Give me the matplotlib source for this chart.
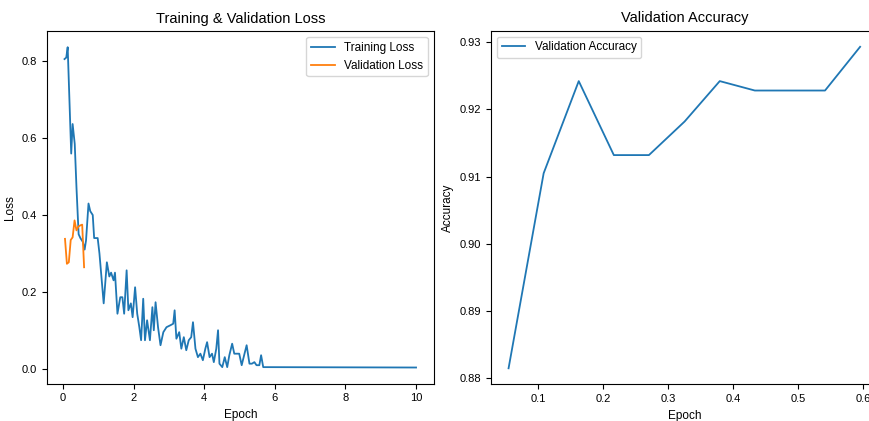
import matplotlib
matplotlib.use("Agg")
import matplotlib.pyplot as plt

plt.rcParams['font.family'] = ['Liberation Sans', 'DejaVu Sans']

# training loss (logged per step, x in epochs)
train_epoch = [0.04, 0.09, 0.13, 0.23, 0.27, 0.33, 0.38, 0.44, 0.49, 0.56, 0.61, 0.65,
               0.72, 0.77, 0.84, 0.88, 0.98, 1.03, 1.15, 1.24, 1.31, 1.36, 1.43, 1.47,
               1.54, 1.62, 1.68, 1.73, 1.80, 1.85, 1.92, 1.97, 2.04, 2.10, 2.16, 2.21,
               2.27, 2.32, 2.38, 2.46, 2.53, 2.57, 2.62, 2.69, 2.76, 2.84, 2.93, 3.04,
               3.12, 3.16, 3.21, 3.29, 3.35, 3.42, 3.49, 3.56, 3.63, 3.68, 3.75, 3.82,
               3.89, 3.96, 4.03, 4.08, 4.15, 4.22, 4.27, 4.34, 4.39, 4.43, 4.51, 4.58,
               4.65, 4.71, 4.79, 4.85, 4.92, 4.99, 5.06, 5.14, 5.20, 5.28, 5.35, 5.42,
               5.48, 5.56, 5.61, 5.67, 10.0]
train_loss = [0.806, 0.81, 0.837, 0.56, 0.637, 0.585, 0.47, 0.35, 0.34, 0.33, 0.31, 0.334,
              0.43, 0.41, 0.40, 0.34, 0.34, 0.30, 0.17, 0.277, 0.24, 0.25, 0.23, 0.25,
              0.143, 0.186, 0.186, 0.143, 0.256, 0.152, 0.17, 0.134, 0.212, 0.143, 0.108, 0.074,
              0.182, 0.074, 0.126, 0.074, 0.16, 0.10, 0.173, 0.108, 0.061, 0.095, 0.108, 0.113,
              0.117, 0.152, 0.078, 0.095, 0.052, 0.082, 0.048, 0.074, 0.082, 0.121, 0.052, 0.03,
              0.039, 0.022, 0.052, 0.069, 0.03, 0.039, 0.017, 0.052, 0.10, 0.013, 0.004, 0.03,
              0.004, 0.035, 0.065, 0.039, 0.039, 0.039, 0.009, 0.039, 0.061, 0.013, 0.013, 0.017,
              0.009, 0.009, 0.035, 0.004, 0.003]

# validation (per eval step)
val_epoch = [0.054, 0.108, 0.162, 0.216, 0.270, 0.325, 0.379, 0.433, 0.487, 0.541, 0.595]
val_loss = [0.338, 0.273, 0.277, 0.335, 0.342, 0.386, 0.360, 0.370, 0.373, 0.375, 0.264]
val_acc = [0.8815, 0.9105, 0.9242, 0.9132, 0.9132, 0.9182, 0.9242, 0.9228, 0.9228, 0.9228, 0.9293]

fig = plt.figure(figsize=(8.69, 4.21), dpi=100)
ax1 = fig.add_axes([0.054, 0.089, 0.445, 0.837])
ax2 = fig.add_axes([0.565, 0.087, 0.445, 0.840])

ax1.plot(train_epoch, train_loss, lw=1.3, label="Training Loss")
ax1.plot(val_epoch, val_loss, lw=1.3, label="Validation Loss")
ax1.set_title("Training & Validation Loss", fontsize=10.5)
ax1.set_xlabel("Epoch", fontsize=8.5)
ax1.set_ylabel("Loss", fontsize=8.5)
ax1.tick_params(labelsize=8)
ax1.legend(loc="upper right", fontsize=8.5)

ax2.plot(val_epoch, val_acc, lw=1.3, label="Validation Accuracy")
ax2.set_title("Validation Accuracy", fontsize=10.5)
ax2.set_xlabel("Epoch", fontsize=8.5)
ax2.set_ylabel("Accuracy", fontsize=8.5)
ax2.tick_params(labelsize=8)
ax2.legend(loc="upper left", fontsize=8.5)

fig.savefig("out.png", dpi=100)
